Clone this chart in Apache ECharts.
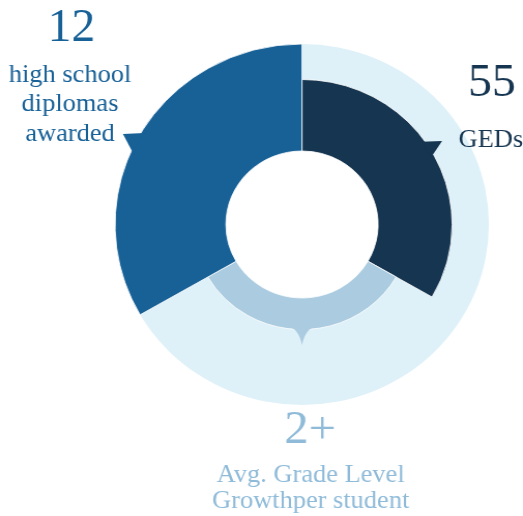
<!DOCTYPE html>
<html><head><meta charset="utf-8">
<script src="https://cdn.jsdelivr.net/npm/echarts@6/dist/echarts.min.js"></script>
<style>
html,body{margin:0;padding:0;background:#fff;overflow:hidden;}
#wrap{width:523px;height:516px;overflow:hidden;}
#chart{width:505px;height:516px;transform:scaleX(1.0356);transform-origin:0 0;}
</style></head><body>
<div id="wrap"><div id="chart"></div></div>
<script>
// ---- data ----
const categories = ['GEDs', 'Avg. Grade Level Growthper student', 'high school diplomas awarded'];
const bigNumbers = ['55', '2+', '12'];
const captions = [['GEDs'], ['Avg. Grade Level', 'Growthper student'], ['high school', 'diplomas', 'awarded']];
const shares = [1, 1, 1];

// ---- styling ----
const CX = 291.6, CY = 224.5, R0 = 73.5, RBG = 180.5;
const segR = [145, 105, 180.5];
const segColors = ['#163550', '#abcbe0', '#186197'];
const textColors = ['#163550', '#8fbbd9', '#186197'];
const bgColor = '#dff1f8';
const FAMILY = "'Liberation Serif', serif";

const chart = echarts.init(document.getElementById('chart'), null, {renderer: 'canvas'});

function pt(angleDeg, r) {
  const a = angleDeg * Math.PI / 180;
  return [CX + r * Math.sin(a), CY - r * Math.cos(a)];
}

const series = [{
  type: 'pie', center: [CX, CY], radius: [R0, RBG], silent: true, animation: false,
  label: {show: false}, labelLine: {show: false},
  data: [{value: 1, name: 'bg', itemStyle: {color: bgColor}}]
}];
shares.forEach((s, i) => {
  series.push({
    type: 'pie', center: [CX, CY], radius: [R0, segR[i]], silent: true, animation: false,
    startAngle: 90, clockwise: true,
    label: {show: false}, labelLine: {show: false},
    data: shares.map((v, j) => ({
      value: v, name: categories[j],
      itemStyle: j === i ? {color: segColors[i], borderColor: '#fff', borderWidth: 0.8}
                         : {color: 'rgba(0,0,0,0)', borderWidth: 0}
    }))
  });
});

// callout tails
function straightTail(a1, a2, tipA, r, len, color) {
  return {type: 'polygon', z: 10, silent: true,
    shape: {points: [pt(a1, r - 3), pt(tipA, r + len), pt(a2, r - 3)]},
    style: {fill: color}};
}
function curvedTail(center, half, r, len, color) {
  const A = pt(center - half, r - 2), B = pt(center + half, r - 2), T = pt(center, r + len);
  const cA = pt(center - half * 0.25, r + 1), cB = pt(center + half * 0.25, r + 1);
  const pts = [];
  const q = (p0, c, p1, t) => [(1-t)*(1-t)*p0[0] + 2*(1-t)*t*c[0] + t*t*p1[0], (1-t)*(1-t)*p0[1] + 2*(1-t)*t*c[1] + t*t*p1[1]];
  for (let k = 0; k <= 12; k++) pts.push(q(A, cA, T, k / 12));
  for (let k = 1; k <= 12; k++) pts.push(q(T, cB, B, k / 12));
  return {type: 'polygon', z: 10, silent: true, shape: {points: pts}, style: {fill: color}};
}

function textEl(x, baseline, lines, fs, lh, color) {
  return {type: 'text', z: 20, silent: true, x: x, y: baseline - lh / 2 - 0.305 * fs,
    style: {text: lines.join('\n'), font: fs + 'px ' + FAMILY, fill: color,
      align: 'center', verticalAlign: 'top', textAlign: 'center', textVerticalAlign: 'top', lineHeight: lh}};
}

const graphics = [
  straightTail(54.3, 61.6, 58.3, segR[0], 14, segColors[0]),
  curvedTail(180, 6.3, segR[1], 15.5, segColors[1]),
  straightTail(301, 293.5, 297.6, segR[2], 14.6, segColors[2]),
  textEl(69, 43, [bigNumbers[2]], 46, 46, textColors[2]),
  textEl(67.6, 83, captions[2], 25.5, 29.3, textColors[2]),
  textEl(475, 98, [bigNumbers[0]], 46, 46, textColors[0]),
  textEl(474, 148.3, captions[0], 25.5, 29, textColors[0]),
  textEl(299.5, 445, [bigNumbers[1]], 47, 47, textColors[1]),
  textEl(300, 483.5, captions[1], 25.5, 25.7, textColors[1])
];

chart.setOption({animation: false, series: series, graphic: graphics});
</script>
</body></html>
